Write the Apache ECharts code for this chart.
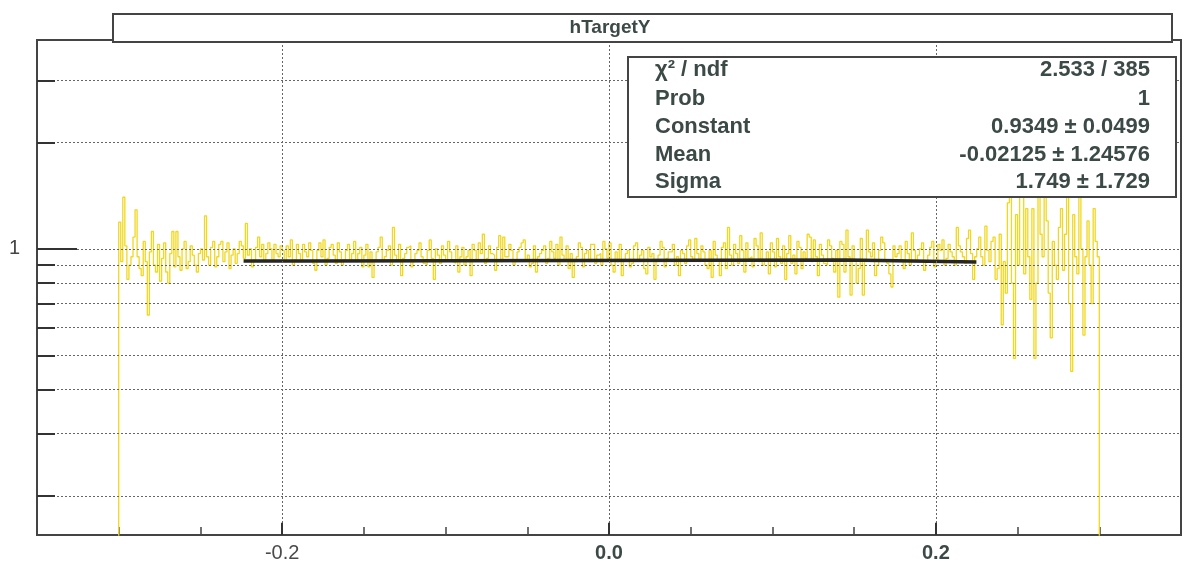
<!DOCTYPE html>
<html>
<head>
<meta charset="utf-8">
<script src="https://cdn.jsdelivr.net/npm/echarts@6/dist/echarts.min.js"></script>
<style>
html,body{margin:0;padding:0;background:#fff;}
#chart{width:1184px;height:570px;}
</style>
</head>
<body>
<div id="chart"></div>
<script>
// ---- data ----
var title = 'hTargetY';
var histMin = -0.3;          // lower edge of first bin
var binWidth = 0.00125;      // bin width
var counts = [
 1.19,0.92,1.40,1.02,0.82,0.90,0.95,1.08,1.29,0.95,0.88,0.84,1.05,0.92,0.65,0.98,1.12,0.90,0.86,1.03,
 0.81,0.94,1.04,0.86,0.80,0.97,1.12,0.89,1.12,0.95,0.87,1.00,1.05,0.88,0.92,1.02,0.96,0.90,0.86,0.97,
 1.00,0.93,1.24,0.95,0.90,1.01,1.05,0.89,0.95,1.03,1.05,0.92,0.98,1.04,0.88,0.96,1.00,0.91,0.97,1.05,
 1.02,0.94,1.18,0.96,1.00,0.89,0.93,1.01,1.08,0.95,1.03,0.92,0.97,1.04,1.00,0.93,1.03,0.97,0.95,1.02,
 0.99,0.92,1.02,0.95,1.06,0.90,0.93,1.03,0.97,0.92,1.03,0.98,0.95,1.04,0.99,0.91,0.87,0.99,1.04,0.95,
 1.06,0.90,0.94,1.01,1.03,0.96,0.91,1.04,0.98,0.90,0.93,0.99,1.03,0.92,0.97,1.05,0.92,0.97,1.01,0.89,
 0.96,1.03,0.89,0.98,0.83,0.93,0.98,1.01,1.08,0.92,0.95,0.99,1.02,0.90,1.15,0.96,0.93,1.03,0.84,0.94,
 0.97,1.01,1.02,0.89,0.92,0.97,0.99,1.04,0.95,0.91,0.90,0.99,1.06,0.94,0.82,1.00,0.96,0.91,1.02,0.96,
 0.93,1.05,0.98,0.92,0.91,1.02,0.86,0.95,1.01,0.90,0.95,0.99,0.84,1.03,0.99,0.93,1.04,0.97,1.10,0.91,
 0.94,1.02,0.97,0.96,0.87,1.01,1.09,0.92,1.08,0.95,0.95,1.03,0.99,0.90,0.92,0.98,1.01,1.04,1.06,0.93,
 0.96,0.89,0.91,1.02,0.86,0.95,0.97,0.99,1.02,0.91,0.94,1.05,0.98,0.94,1.03,0.90,1.08,0.96,0.93,1.02,
 0.88,0.97,0.83,0.92,0.95,1.04,1.01,0.89,0.97,0.99,0.92,1.03,1.03,0.91,0.96,0.97,0.90,1.05,1.00,0.94,
 1.04,0.90,0.86,0.98,0.92,1.03,0.84,0.93,0.97,0.99,0.89,0.91,1.02,1.04,0.93,0.96,0.99,0.88,0.85,1.01,
 0.95,0.97,0.82,0.92,0.96,1.05,1.01,0.89,0.94,0.98,0.98,1.03,0.90,0.95,0.84,0.99,0.97,0.91,1.02,1.06,
 0.95,0.93,1.07,0.97,0.92,1.02,0.98,0.90,0.88,0.99,0.83,1.05,0.96,0.93,0.84,1.01,1.04,0.88,1.15,0.96,
 0.90,1.03,0.97,0.91,1.09,0.99,0.86,1.04,0.94,0.95,0.89,1.07,1.02,0.92,1.11,0.90,0.93,0.98,0.85,1.04,
 0.98,0.89,1.07,0.95,0.91,1.02,0.82,0.97,1.09,0.91,0.96,0.85,1.05,1.01,0.88,0.98,0.94,1.10,1.08,0.92,
 1.06,0.95,0.84,1.03,0.96,0.91,0.90,1.06,1.02,0.94,0.86,0.99,0.73,1.05,1.03,0.86,1.13,0.95,0.74,1.02,
 0.93,0.80,0.88,1.07,0.74,0.92,1.13,0.98,0.95,1.04,0.84,0.90,0.99,1.08,1.04,0.93,0.91,0.85,0.78,1.02,
 0.95,0.97,1.02,0.93,0.88,1.05,0.97,0.90,1.11,0.99,0.92,0.96,1.00,1.04,0.87,0.92,0.96,1.01,1.05,0.89,
 0.93,1.03,0.99,1.06,0.90,0.94,1.03,0.98,0.95,0.90,1.15,1.02,0.98,0.95,0.91,1.07,1.13,0.97,0.82,0.95,
 1.00,1.08,0.95,0.90,1.16,0.99,0.92,1.05,1.08,0.82,0.88,1.10,0.61,0.92,0.75,1.35,1.60,0.80,0.49,1.25,
 0.90,1.45,1.50,0.85,1.30,0.95,0.72,1.30,0.49,0.80,1.55,1.10,0.95,1.40,1.20,0.75,0.56,1.05,0.90,0.82,
 1.15,1.30,0.87,1.10,1.60,0.70,0.45,1.25,0.95,0.85,1.50,1.00,0.57,0.95,1.20,0.90,0.70,1.30,1.05,0.95
];
var fitX = [-0.2236, -0.183, -0.182, 0.146, 0.147, 0.2248];
var fitY = [0.924, 0.924, 0.930, 0.930, 0.918, 0.918];
var gridValuesY = [0.2,0.3,0.4,0.5,0.6,0.7,0.8,0.9,1,2,3];
var gridValuesX = [-0.2, 0, 0.2];
var statsLabels = ['\u03C7\u00B2 / ndf','Prob','Constant','Mean','Sigma'];
var statsValues = ['2.533 / 385','1','0.9349 \u00B1 0.0499','-0.02125 \u00B1 1.24576','1.749 \u00B1 1.729'];
var xLabelMap = {'-0.2':'{n|-0.2}','0':'{b|0.0}','0.2':'{b|0.2}'};

// ---- build ----
var yMin = 0.155, yMax = 3.9;
var histData = [[histMin - binWidth, 0.01]];
for (var i = 0; i < counts.length; i++) {
  histData.push([histMin + i * binWidth, counts[i]]);
}
histData.push([histMin + counts.length * binWidth, 0.01]);
var fitData = fitX.map(function(x, i){ return [x, fitY[i]]; });

var gridLineData = gridValuesY.map(function(v){ return {yAxis: v}; })
  .concat(gridValuesX.map(function(v){ return {xAxis: v}; }));
var tickData = gridValuesY.map(function(v){
  return [{coord:[-0.35, v]}, {coord:[v === 1 ? -0.3255 : -0.339, v]}];
}).concat(gridValuesX.map(function(v){
  return [{coord:[v, yMin]}, {coord:[v, 0.168]}];
}));

var textColor = '#3c4a47';
var graphics = [
  {type:'rect', shape:{x:113, y:14, width:1059, height:28}, style:{fill:'#fff', stroke:'#444', lineWidth:2}, z:100},
  {type:'text', x:610, y:28, style:{text:title, font:'bold 19px "Liberation Sans", Arial, sans-serif', fill:textColor, align:'center', verticalAlign:'middle'}, z:101},
  {type:'rect', shape:{x:628, y:57, width:548, height:140}, style:{fill:'#fff', stroke:'#444', lineWidth:2}, z:100}
];
var rowY = [70, 99, 127, 155, 182];
statsLabels.forEach(function(t, i){
  graphics.push({type:'text', x:655, y:rowY[i], style:{text:t, font:'bold 22px "Liberation Sans", Arial, sans-serif', fill:textColor, align:'left', verticalAlign:'middle'}, z:101});
  graphics.push({type:'text', x:1150, y:rowY[i], style:{text:statsValues[i], font:'bold 22px "Liberation Sans", Arial, sans-serif', fill:textColor, align:'right', verticalAlign:'middle'}, z:101});
});

var chart = echarts.init(document.getElementById('chart'), null, {renderer:'canvas'});
chart.setOption({
  animation: false,
  backgroundColor: '#fff',
  grid: {left:37, right:2, top:40, bottom:35, show:true, borderColor:'#444', borderWidth:2, backgroundColor:'transparent'},
  xAxis: {
    type:'value', min:-0.35, max:0.35, interval:0.05,
    axisLine:{show:true, onZero:false, lineStyle:{color:'#444', width:2}},
    axisTick:{show:true, inside:true, length:8, lineStyle:{color:'#444', width:1.5}},
    splitLine:{show:false},
    axisLabel:{
      margin:8, color:textColor, fontFamily:'"Liberation Sans", Arial, sans-serif', fontSize:20,
      formatter:function(v){ var k = String(Math.round(v*100)/100); return xLabelMap[k] || ''; },
      rich:{ n:{fontSize:20, color:'#4a4a4a', fontFamily:'"Liberation Sans", Arial, sans-serif'},
             b:{fontSize:20, fontWeight:'bold', color:textColor, fontFamily:'"Liberation Sans", Arial, sans-serif'} }
    }
  },
  yAxis: {
    type:'log', logBase:10, min:yMin, max:yMax,
    axisLine:{show:true, onZero:false, lineStyle:{color:'#444', width:2}},
    axisTick:{show:false},
    splitLine:{show:false},
    minorSplitLine:{show:false},
    axisLabel:{
      margin:17, fontSize:20, color:'#444', fontFamily:'"Liberation Sans", Arial, sans-serif',
      showMinLabel:false, showMaxLabel:false,
      formatter:function(v){ return Math.abs(v-1) < 1e-9 ? '1' : ''; }
    }
  },
  graphic: graphics,
  series: [
    {
      type:'line', data:[], silent:true,
      markLine:{silent:true, symbol:'none', animation:false, label:{show:false},
        lineStyle:{color:'#666', type:[2,2], width:1}, data:gridLineData}
    },
    {
      type:'line', data:[], silent:true,
      markLine:{silent:true, symbol:'none', animation:false, label:{show:false},
        lineStyle:{color:'#333', type:'solid', width:2}, data:tickData}
    },
    {
      type:'line', step:'end', data:histData, showSymbol:false, symbol:'none', silent:true,
      lineStyle:{color:'#f0d820', width:1.3}, z:3, clip:true
    },
    {
      type:'line', data:fitData, showSymbol:false, symbol:'none', silent:true,
      lineStyle:{color:'#262626', width:3.5}, z:4
    }
  ]
});
</script>
</body>
</html>
